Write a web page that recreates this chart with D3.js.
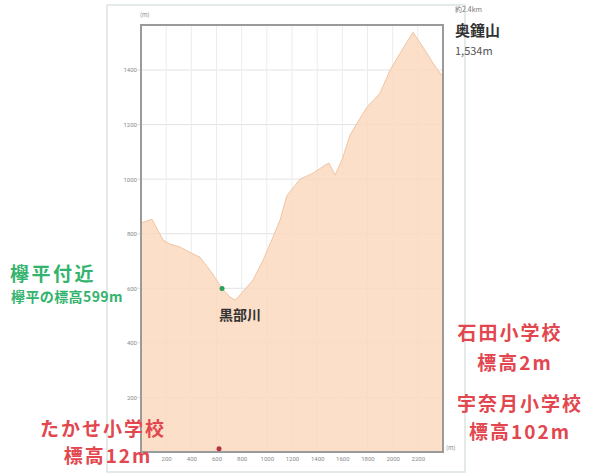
<!DOCTYPE html>
<html>
<head>
<meta charset="utf-8">
<script src="https://cdn.jsdelivr.net/npm/d3@7"></script>
<style>
  body { margin: 0; background: #fff; }
  text { font-family: "Noto Sans CJK JP", "Noto Sans", sans-serif; }
</style>
</head>
<body>
<svg id="drawing_region"></svg>
<script>
// distance along the section (m) and elevation (m)
const distances  = [0, 87, 175, 230, 310, 429, 469, 564, 644, 707, 747, 787, 890, 970, 1049, 1105,
                    1160, 1264, 1367, 1462, 1494, 1542, 1597, 1661, 1717, 1796, 1899, 1979, 2058, 2162, 2241, 2321, 2400];
const elevations = [839, 853, 777, 762, 751, 722, 714, 656, 599, 568, 557, 575, 630, 703, 788, 850,
                    940, 1000, 1022, 1051, 1059, 1015, 1070, 1161, 1205, 1264, 1315, 1399, 1461, 1538, 1484, 1425, 1374];
const yTicks = [200, 400, 600, 800, 1000, 1200, 1400];
const xTicks = [200, 400, 600, 800, 1000, 1200, 1400, 1600, 1800, 2000, 2200];

// marked places
const keyakiPoint = { x: 644, y: 599 };
const schoolPoint = { x: 620, y: 12 };

const data = distances.map((d, i) => ({ x: d, y: elevations[i] }));

const W = 595, H = 475;
const margin = { left: 141, right: 152, top: 25, bottom: 23 };
const iw = W - margin.left - margin.right;
const ih = H - margin.top - margin.bottom;

const svg = d3.select('#drawing_region')
    .attr('width', W)
    .attr('height', H);

// outer light frame
svg.append('rect')
    .attr('x', 107).attr('y', 5)
    .attr('width', 358).attr('height', 467)
    .attr('fill', 'none')
    .attr('stroke', '#dbe3df')
    .attr('stroke-width', 1.5);

const g = svg.append('g')
    .attr('transform', `translate(${margin.left}, ${margin.top})`);

const xscale = d3.scaleLinear().domain([0, 2400]).range([0, iw]);
const yscale = d3.scaleLinear().domain([0, 1565]).range([ih, 0]);

// grid
g.append('g').selectAll('line')
    .data(yTicks)
    .join('line')
    .attr('x1', -4).attr('x2', iw)
    .attr('y1', d => yscale(d)).attr('y2', d => yscale(d))
    .attr('stroke', '#e2e2e2');
g.append('g').selectAll('line')
    .data(xTicks)
    .join('line')
    .attr('x1', d => xscale(d)).attr('x2', d => xscale(d))
    .attr('y1', 0).attr('y2', ih)
    .attr('stroke', '#ececec');

// area
const area = d3.area()
    .x(d => xscale(d.x))
    .y0(ih)
    .y1(d => yscale(d.y));

g.append('path')
    .datum(data)
    .attr('d', area)
    .attr('fill', '#fcd9bf')
    .attr('fill-opacity', 0.85)
    .attr('stroke', '#f0c4a4')
    .attr('stroke-width', 1);

// plot frame
g.append('rect')
    .attr('width', iw).attr('height', ih)
    .attr('fill', 'none')
    .attr('stroke', '#9a9a9a')
    .attr('stroke-width', 2);

// axes
const yaxis = d3.axisLeft(yscale).tickValues(yTicks).tickFormat(d3.format('d')).tickSize(0).tickPadding(4);
const xaxis = d3.axisBottom(xscale).tickValues(xTicks).tickFormat(d3.format('d')).tickSize(0).tickPadding(5);

const yg = g.append('g').call(yaxis);
const xg = g.append('g').attr('transform', `translate(0, ${ih})`).call(xaxis);
[yg, xg].forEach(a => {
    a.select('.domain').remove();
    a.selectAll('text').attr('fill', '#8a8a8a').style('font-size', '6px').style('font-family', 'Roboto, sans-serif');
});

svg.append('text')
    .attr('x', 140).attr('y', 17)
    .attr('font-size', 6).attr('fill', '#8a8a8a')
    .text('(m)');
svg.append('text')
    .attr('x', 446).attr('y', 450)
    .attr('font-size', 6).attr('fill', '#8a8a8a')
    .text('(m)');

// points
g.append('circle')
    .attr('cx', xscale(keyakiPoint.x)).attr('cy', yscale(keyakiPoint.y))
    .attr('r', 2.5).attr('fill', '#2e9e5e');
g.append('circle')
    .attr('cx', xscale(schoolPoint.x)).attr('cy', yscale(schoolPoint.y))
    .attr('r', 2.5).attr('fill', '#b8343c');

// labels
const green = '#33b36e', red = '#e2474f';

svg.append('text').attr('x', 455).attr('y', 12)
    .attr('font-size', 7).attr('fill', '#777').text('約2.4km');
svg.append('text').attr('x', 455).attr('y', 36)
    .attr('font-size', 15).attr('font-weight', 'bold').attr('fill', '#333').text('奥鐘山');
svg.append('text').attr('x', 455).attr('y', 55)
    .attr('font-size', 11).attr('fill', '#555').text('1,534m');

svg.append('text').attr('x', 10).attr('y', 281)
    .attr('font-size', 19).attr('font-weight', 'bold').attr('fill', green)
    .attr('letter-spacing', 2.5).text('欅平付近');
svg.append('text').attr('x', 11).attr('y', 302)
    .attr('font-size', 14).attr('font-weight', 'bold').attr('fill', green)
    .attr('letter-spacing', 0.4)
    .text('欅平の標高599m');

svg.append('text').attr('x', 219).attr('y', 320)
    .attr('font-size', 14).attr('font-weight', 'bold').attr('fill', '#333')
    .text('黒部川');

const redLabels = [
    { t: '石田小学校', x: 510, y: 340, s: 19 },
    { t: '標高2m', x: 515, y: 370, s: 19 },
    { t: '宇奈月小学校', x: 520, y: 411, s: 19 },
    { t: '標高102m', x: 520, y: 439, s: 19 },
    { t: 'たかせ小学校', x: 103, y: 436, s: 19 },
    { t: '標高12m', x: 108, y: 463, s: 19 }
];
svg.append('g').selectAll('text')
    .data(redLabels)
    .join('text')
    .attr('x', d => d.x).attr('y', d => d.y)
    .attr('text-anchor', 'middle')
    .attr('font-size', d => d.s)
    .attr('font-weight', 'bold')
    .attr('letter-spacing', 2)
    .attr('fill', red)
    .text(d => d.t);
</script>
</body>
</html>
